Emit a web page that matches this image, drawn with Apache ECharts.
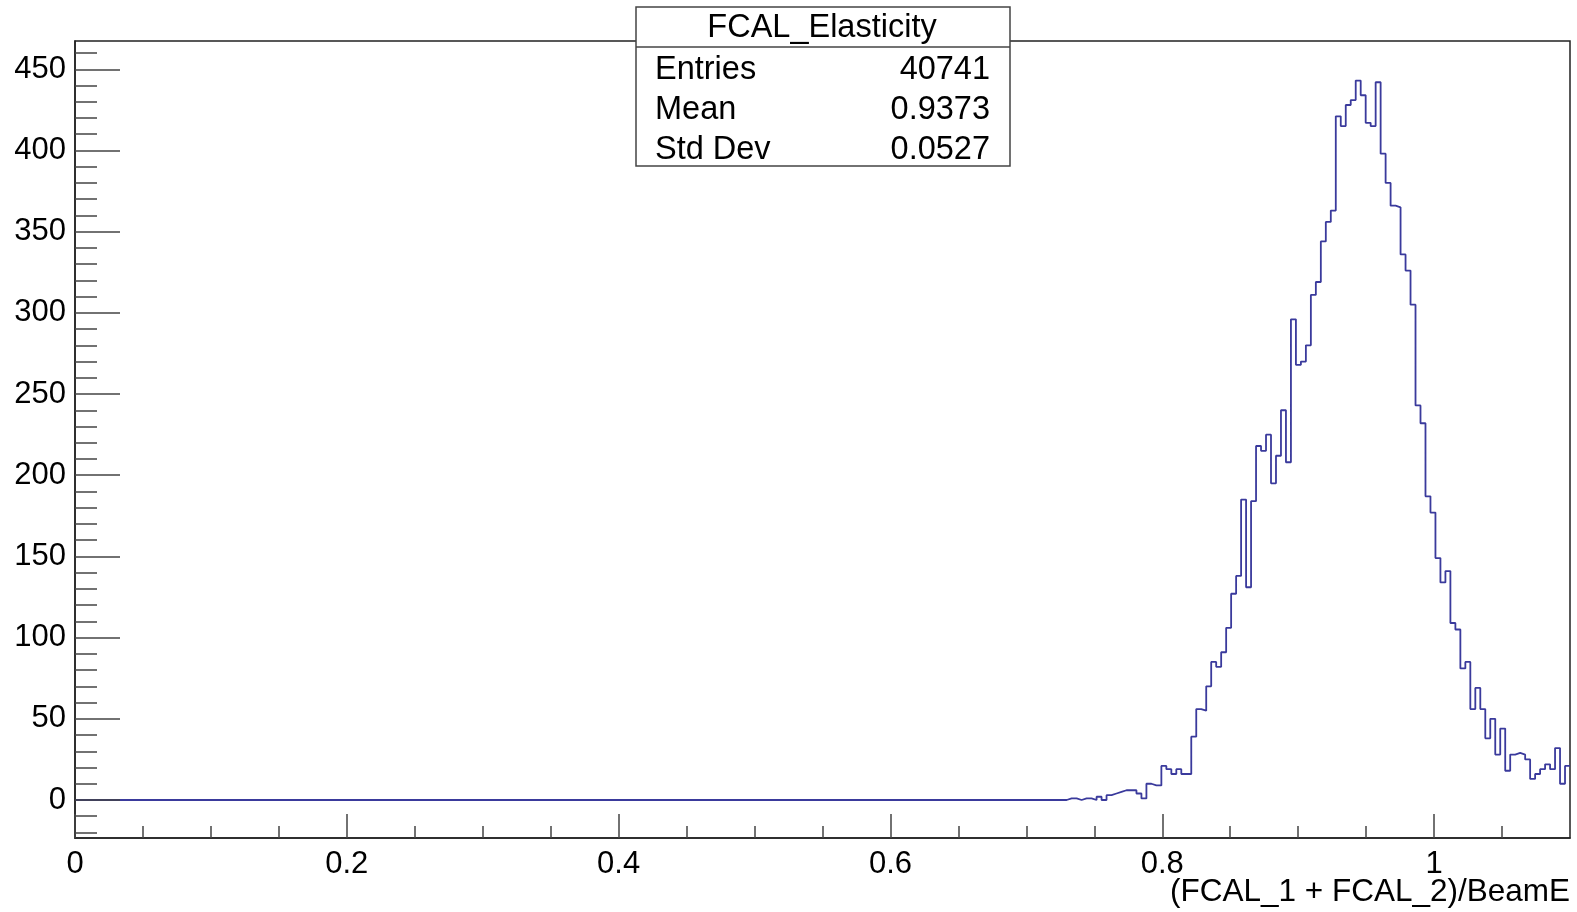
<!DOCTYPE html>
<html>
<head>
<meta charset="utf-8">
<title>FCAL_Elasticity</title>
<script src="https://cdn.jsdelivr.net/npm/echarts@6/dist/echarts.min.js"></script>
<style>
html, body { margin: 0; padding: 0; background: #fff; }
#chart { width: 1577px; height: 912px; }
</style>
</head>
<body>
<div id="chart"></div>
<script>
// histogram: 300 bins over [0, 1.1]
const xMin = 0;
const xMax = 1.1;
const nBins = 300;
// every bin before firstBin is empty
const firstBin = 199;
const counts = [
  1, 1, 0, 1, 1, 0, 2, 0, 3, 4,
  5, 6, 6, 6, 4, 1, 10, 9, 9, 21,
  19, 16, 19, 16, 16, 39, 56, 55, 70, 85,
  82, 91, 106, 127, 138, 185, 131, 184, 218, 215,
  225, 195, 212, 240, 208, 296, 268, 270, 280, 311,
  319, 344, 356, 363, 421, 415, 428, 431, 443, 434,
  417, 415, 442, 398, 380, 366, 365, 336, 326, 305,
  243, 232, 187, 177, 149, 134, 141, 109, 105, 81,
  85, 56, 69, 56, 38, 50, 28, 44, 18, 28,
  29, 28, 25, 13, 16, 19, 22, 19, 32, 10,
  21
];

const xMajorTicks = [0, 0.2, 0.4, 0.6, 0.8, 1];
const xMinorTicks = [0.05, 0.1, 0.15, 0.25, 0.3, 0.35, 0.45, 0.5, 0.55, 0.65, 0.7, 0.75, 0.85, 0.9, 0.95, 1.05];
const yMajorTicks = [0, 50, 100, 150, 200, 250, 300, 350, 400, 450];
const yMinorTicks = [-20, -10, 10, 20, 30, 40, 60, 70, 80, 90, 110, 120, 130, 140, 160, 170, 180, 190,
  210, 220, 230, 240, 260, 270, 280, 290, 310, 320, 330, 340, 360, 370, 380, 390,
  410, 420, 430, 440, 460];

const statsTitle = 'FCAL_Elasticity';
const statsNames = ['Entries', 'Mean', 'Std Dev'];
const statsValues = ['40741', '0.9373', '0.0527'];
const xTitle = '(FCAL_1 + FCAL_2)/BeamE';

const FONT = '"Liberation Sans", Arial, Helvetica, sans-serif';

const chart = echarts.init(document.getElementById('chart'));

// step points at the low edge of each bin
const binWidth = (xMax - xMin) / nBins;
const stepData = [[xMin, 0]];
counts.forEach((c, i) => {
  stepData.push([xMin + (firstBin + i) * binWidth, c]);
});
stepData.push([xMax, counts[counts.length - 1]]);

function baseAxis(extra) {
  return Object.assign({
    type: 'value',
    splitLine: { show: false },
    axisLine: { show: false, onZero: false }
  }, extra);
}

// stats box
const statsGraphic = [{
  type: 'rect',
  shape: { x: 636, y: 7, width: 374, height: 159 },
  style: { fill: '#fff', stroke: '#444', lineWidth: 1.5 },
  z: 100
}, {
  type: 'line',
  shape: { x1: 636, y1: 47, x2: 1010, y2: 47 },
  style: { stroke: '#444', lineWidth: 1.5 },
  z: 101
}, {
  type: 'text',
  x: 822, y: 28,
  style: { text: statsTitle, fill: '#000', font: '32.5px ' + FONT, align: 'center', verticalAlign: 'middle' },
  z: 101
}];
statsNames.forEach((name, i) => {
  const y = 70 + i * 40;
  statsGraphic.push({
    type: 'text', x: 655, y: y, z: 101,
    style: { text: name, fill: '#000', font: '32.5px ' + FONT, align: 'left', verticalAlign: 'middle' }
  });
  statsGraphic.push({
    type: 'text', x: 990, y: y, z: 101,
    style: { text: statsValues[i], fill: '#000', font: '32.5px ' + FONT, align: 'right', verticalAlign: 'middle' }
  });
});
// x axis title
statsGraphic.push({
  type: 'text', x: 1570, y: 892, z: 101,
  style: { text: xTitle, fill: '#000', font: '31.5px ' + FONT, align: 'right', verticalAlign: 'middle' }
});

chart.setOption({
  animation: false,
  backgroundColor: '#fff',
  grid: {
    left: 75,
    top: 41,
    width: 1495,
    height: 797,
    show: true,
    borderColor: '#222',
    borderWidth: 1.5,
    backgroundColor: 'transparent'
  },
  xAxis: [
    baseAxis({
      min: xMin,
      max: xMax,
      position: 'bottom',
      axisLine: { show: true, onZero: false, lineStyle: { color: '#222', width: 1.5 } },
      axisTick: { show: true, inside: true, length: 24, customValues: xMajorTicks, lineStyle: { color: '#444', width: 1.5 } },
      axisLabel: {
        customValues: xMajorTicks,
        margin: 11,
        color: '#000',
        fontSize: 31,
        fontFamily: FONT,
        formatter: v => String(+v.toFixed(2))
      },
      z: 5
    }),
    baseAxis({
      min: xMin,
      max: xMax,
      position: 'bottom',
      axisTick: { show: true, inside: true, length: 12, customValues: xMinorTicks, lineStyle: { color: '#444', width: 1.5 } },
      axisLabel: { show: false },
      z: 5
    })
  ],
  yAxis: [
    baseAxis({
      min: -23.4,
      max: 467.4,
      position: 'left',
      axisLine: { show: true, onZero: false, lineStyle: { color: '#222', width: 1.5 } },
      axisTick: { show: true, inside: true, length: 45, customValues: yMajorTicks, lineStyle: { color: '#444', width: 1.5 } },
      axisLabel: {
        customValues: yMajorTicks,
        margin: 9,
        color: '#000',
        fontSize: 31,
        fontFamily: FONT,
        padding: [3, 0, 0, 0]
      },
      z: 5
    }),
    baseAxis({
      min: -23.4,
      max: 467.4,
      position: 'left',
      axisTick: { show: true, inside: true, length: 22, customValues: yMinorTicks, lineStyle: { color: '#444', width: 1.5 } },
      axisLabel: { show: false },
      z: 5
    })
  ],
  series: [{
    name: statsTitle,
    type: 'line',
    step: 'end',
    xAxisIndex: 0,
    yAxisIndex: 0,
    showSymbol: false,
    symbol: 'none',
    lineStyle: { color: '#3a3a9c', width: 1.8 },
    data: stepData,
    z: 2
  }],
  graphic: statsGraphic
});
</script>
</body>
</html>
